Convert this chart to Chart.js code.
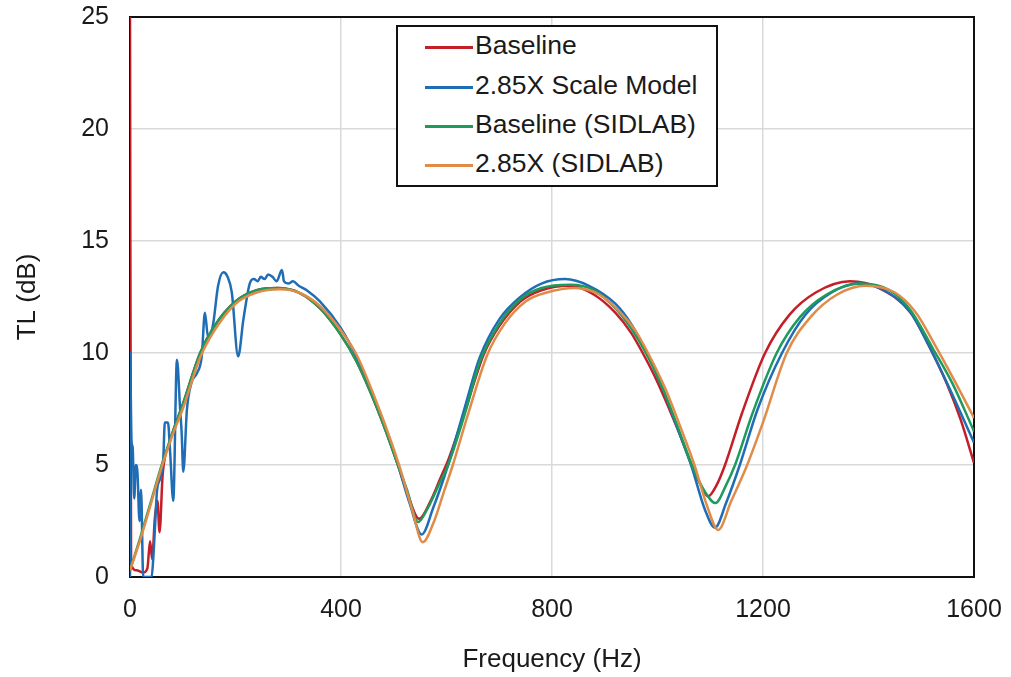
<!DOCTYPE html>
<html>
<head>
<meta charset="utf-8">
<title>TL comparison</title>
<script src="https://cdn.jsdelivr.net/npm/chart.js@4.4.0/dist/chart.umd.min.js"></script>
<style>
  body { margin: 0; background: #fff; }
  #wrap { position: relative; width: 1011px; height: 677px; }
  #legend {
    position: absolute; left: 396px; top: 25px; width: 318px; height: 158px;
    border: 2px solid #111; background: #fff;
    font-family: "Liberation Sans", Arial, sans-serif; font-size: 26.5px; color: #1a1a1a;
  }
  #legend .row { position: absolute; left: 27px; height: 30px; line-height: 30px; white-space: nowrap; }
  #legend .row i { display: inline-block; width: 48px; height: 3px; vertical-align: middle; margin-right: 2px; }
</style>
</head>
<body>
<div id="wrap">
  <canvas id="tl" width="1011" height="677"></canvas>
  <div id="legend"></div>
</div>
<script>
// ── Data ───────────────────────────────────────────────────

const SERIES_NAMES = ['Baseline', '2.85X Scale Model', 'Baseline (SIDLAB)', '2.85X (SIDLAB)'];
const SERIES_COLORS = ['#c41e28', '#1f6db5', '#1e9a5c', '#e08c48'];

const X_TICKS = [0, 400, 800, 1200, 1600];
const Y_TICKS = [0, 5, 10, 15, 20, 25];

// Baseline (measured)
const BASE_FREQ = [
  0, 2, 12, 25, 33, 38, 42, 47, 52, 56,
  62, 75, 100, 133, 160, 200, 240, 280, 320, 360,
  400, 430, 474, 508, 525, 548, 570, 590, 603, 635,
  670, 700, 740, 780, 834, 880, 920, 950, 972, 1000,
  1040, 1065, 1080, 1096, 1112, 1128, 1160, 1204, 1250, 1300,
  1365, 1420, 1480, 1515, 1549, 1575, 1600
];
const BASE_TL = [
  25, 0.6, 0.3, 0.2, 0.4, 1.6, 0.8, 2.6, 3.4, 2.0,
  4.6, 6.0, 7.7, 10.0, 11.2, 12.3, 12.8, 12.9, 12.7, 12.0,
  10.8, 9.6, 7.2, 5.0, 3.8, 2.6, 3.4, 4.5, 5.2, 7.4,
  9.9, 11.2, 12.3, 12.8, 13.0, 12.6, 11.8, 10.9, 10.0, 8.7,
  6.5, 5.0, 4.2, 3.6, 4.1, 5.0, 7.3, 10.0, 11.7, 12.7,
  13.2, 12.9, 11.8, 10.3, 8.6, 7.0, 5.1
];

// 2.85X scale model (measured)
const SCALE_FREQ = [
  0, 0, 3, 5, 8, 11, 14, 18, 21, 25,
  31, 37, 41, 44, 48, 51, 57, 63, 66, 72,
  76, 82, 89, 95, 98, 101, 108, 117, 127, 136,
  142, 148, 157, 167, 177, 185, 193, 205, 215, 227,
  235, 242, 248, 255, 262, 270, 278, 288, 292, 300,
  309, 320, 335, 360, 400, 430, 474, 508, 530, 553,
  575, 603, 635, 663, 700, 740, 780, 825, 870, 920,
  950, 980, 1010, 1040, 1065, 1090, 1109, 1130, 1156, 1190,
  1236, 1280, 1330, 1380, 1430, 1480, 1515, 1550, 1600
];
const SCALE_TL = [
  0, 10, 6.0, 5.8, 3.5, 5.0, 4.7, 2.5, 3.9, 0,
  0, 0, 0, 0.8, 2.5, 3.8, 4.4, 5.2, 6.9, 6.9,
  5.6, 3.4, 9.7, 7.5, 6.4, 4.7, 7.5, 8.7, 9.1, 9.85,
  11.8, 10.7, 11.2, 13.0, 13.6, 13.4, 12.7, 9.85, 11.5, 13.1,
  13.3, 13.2, 13.4, 13.3, 13.5, 13.4, 13.2, 13.7, 13.2, 13.1,
  13.2, 13.0, 12.8, 12.3, 11.1, 9.8, 7.3, 5.0, 3.3, 1.9,
  3.1, 5.0, 7.6, 9.8, 11.5, 12.5, 13.1, 13.3, 13.0, 12.2,
  11.3, 10.0, 8.4, 6.5, 4.9, 3.0, 2.2, 3.3, 5.0, 7.5,
  10.0, 11.7, 12.7, 13.1, 12.8, 11.8, 10.3, 8.6, 6.0
];

// Baseline (SIDLAB)
const BASE_SIM_FREQ = [
  0, 20, 40, 60, 80, 100, 133, 160, 200, 240,
  278, 320, 360, 400, 430, 474, 508, 525, 546, 565,
  585, 603, 635, 663, 700, 740, 780, 835, 880, 920,
  950, 978, 1010, 1040, 1065, 1090, 1110, 1130, 1147, 1180,
  1226, 1270, 1320, 1385, 1440, 1480, 1522, 1560, 1600
];
const BASE_SIM_TL = [
  0.3, 1.8, 3.4, 5.0, 6.4, 7.7, 10.0, 11.2, 12.3, 12.8,
  12.9, 12.7, 12.0, 10.8, 9.6, 7.2, 5.0, 3.9, 2.45, 3.1,
  4.1, 5.0, 7.3, 9.6, 11.3, 12.4, 12.9, 13.05, 12.8, 12.0,
  11.1, 10.0, 8.4, 6.6, 5.0, 3.8, 3.3, 4.1, 5.0, 7.3,
  10.0, 11.6, 12.6, 13.1, 12.8, 11.9, 10.2, 8.6, 6.5
];

// 2.85X (SIDLAB)
const SCALE_SIM_FREQ = [
  0, 20, 40, 60, 80, 100, 133, 160, 200, 240,
  285, 320, 360, 400, 430, 474, 510, 535, 555, 575,
  595, 612, 640, 677, 710, 750, 790, 845, 890, 930,
  958, 982, 1015, 1045, 1070, 1095, 1115, 1140, 1170, 1200,
  1245, 1290, 1340, 1395, 1450, 1490, 1525, 1560, 1600
];
const SCALE_SIM_TL = [
  0.3, 1.7, 3.3, 4.9, 6.3, 7.5, 9.8, 11.0, 12.2, 12.7,
  12.85, 12.7, 12.1, 11.0, 9.9, 7.4, 5.0, 3.0, 1.55, 2.4,
  3.8, 5.0, 7.2, 9.9, 11.3, 12.3, 12.7, 12.9, 12.6, 11.8,
  11.0, 10.0, 8.4, 6.6, 5.0, 3.1, 2.1, 3.4, 5.0, 6.9,
  10.0, 11.6, 12.6, 13.0, 12.7, 11.8, 10.4, 8.9, 7.1
];

// ── Helpers ────────────────────────────────────────────────

function toPoints(freq, tl) {
  return freq.map(function (f, i) { return { x: f, y: tl[i] }; });
}

const FAMILY = '"Liberation Sans", Arial, sans-serif';
const TICK_FONT = { family: FAMILY, size: 25 };
const TITLE_FONT = { family: FAMILY, size: 26 };
const TEXT_COLOR = '#1a1a1a';

// draw the black frame round the plot area
const frame = {
  id: 'frame',
  beforeDatasetsDraw: function (chart) {
    const a = chart.chartArea, c = chart.ctx;
    c.save();
    c.strokeStyle = '#111';
    c.lineWidth = 2;
    c.strokeRect(a.left, a.top, a.right - a.left, a.bottom - a.top);
    c.restore();
  }
};

const seriesData = [
  toPoints(BASE_FREQ, BASE_TL),
  toPoints(SCALE_FREQ, SCALE_TL),
  toPoints(BASE_SIM_FREQ, BASE_SIM_TL),
  toPoints(SCALE_SIM_FREQ, SCALE_SIM_TL)
];

const datasets = SERIES_NAMES.map(function (name, i) {
  return {
    label: name,
    data: seriesData[i],
    borderColor: SERIES_COLORS[i],
    backgroundColor: SERIES_COLORS[i],
    borderWidth: 2.5,
    pointRadius: 0,
    fill: false,
    cubicInterpolationMode: 'monotone',
    order: SERIES_NAMES.length - i   // later series drawn on top, like Excel
  };
});

function plainLabel(v) { return String(v); }

// ── Chart ──────────────────────────────────────────────────

new Chart(document.getElementById('tl').getContext('2d'), {
  type: 'line',
  data: { datasets: datasets },
  options: {
    responsive: false,
    animation: false,
    layout: { padding: { top: 17, right: 37, left: 0, bottom: 0 } },
    plugins: { legend: { display: false }, tooltip: { enabled: false } },
    scales: {
      x: {
        type: 'linear', min: 0, max: 1600,
        afterBuildTicks: function (s) { s.ticks = X_TICKS.map(function (v) { return { value: v }; }); },
        afterFit: function (s) { s.height = 100; s.paddingLeft = 0; s.paddingRight = 0; },
        ticks: { font: TICK_FONT, color: TEXT_COLOR, padding: 18, maxRotation: 0, callback: plainLabel },
        grid: { color: '#d9d9d9', lineWidth: 1.5, drawTicks: false },
        border: { display: false },
        title: { display: true, text: 'Frequency (Hz)', font: TITLE_FONT, color: TEXT_COLOR, padding: { top: 0, bottom: 2 } }
      },
      y: {
        min: 0, max: 25,
        afterBuildTicks: function (s) { s.ticks = Y_TICKS.map(function (v) { return { value: v }; }); },
        afterFit: function (s) { s.width = 130; s.paddingTop = 0; s.paddingBottom = 0; },
        ticks: { font: TICK_FONT, color: TEXT_COLOR, padding: 21, callback: plainLabel },
        grid: { color: '#d9d9d9', lineWidth: 1.5, drawTicks: false },
        border: { display: false },
        title: { display: true, text: 'TL (dB)', font: TITLE_FONT, color: TEXT_COLOR, padding: { top: 12, bottom: 0 } }
      }
    }
  },
  plugins: [frame]
});

// ── HTML legend (boxed, inside plot) ───────────────────────

const ROW_TOPS = [3, 43, 82, 121];
document.getElementById('legend').innerHTML = SERIES_NAMES.map(function (name, i) {
  return '<div class="row" style="top:' + ROW_TOPS[i] + 'px"><i style="background:' +
    SERIES_COLORS[i] + '"></i>' + name + '</div>';
}).join('');
</script>
</body>
</html>
